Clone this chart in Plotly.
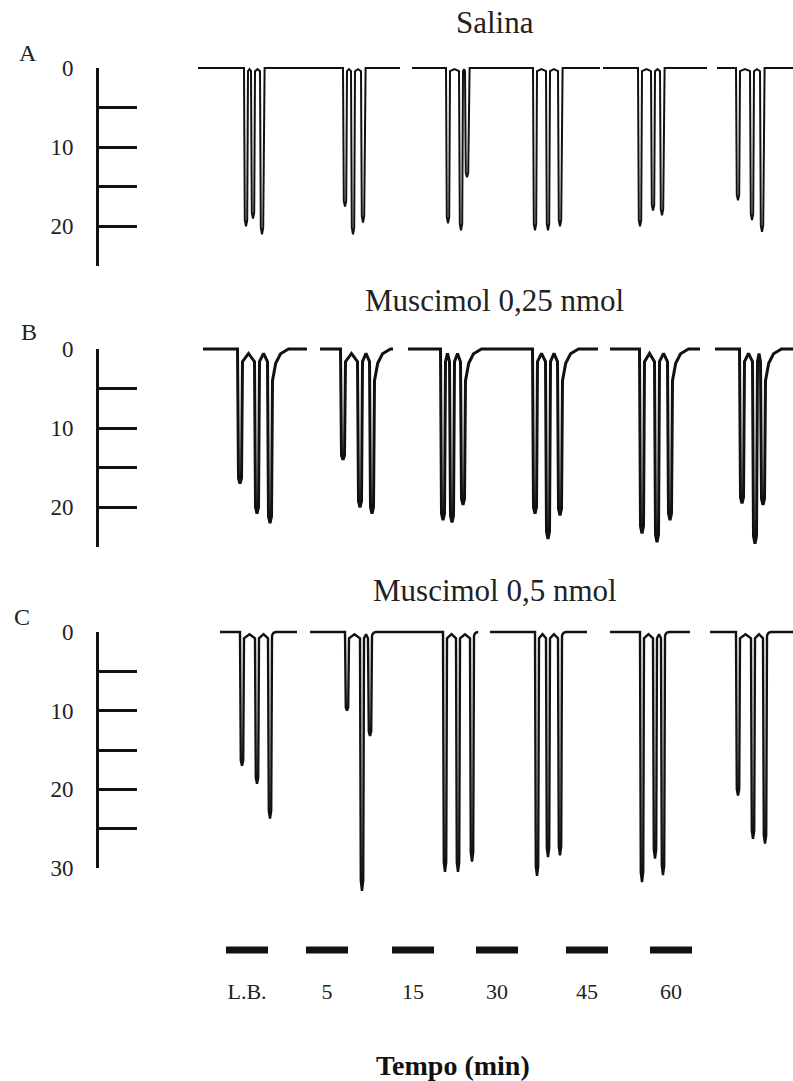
import plotly.graph_objects as go

W, H = 793, 1081
SERIF = "Liberation Serif, Times New Roman, serif"
INK = "#111111"

# Time points of the protocol (baseline + minutes after injection)
TIME_LABELS = ["L.B.", "5", "15", "30", "45", "60"]
TIME_MARKS = [247, 327, 413, 497, 587, 671]   # chart position of each time bar

# Recorded contraction peaks, per time point: (chart position, amplitude)
SALINA_PEAKS = [
    [(246, 20.0), (253, 19.0), (262, 21.0)],
    [(345, 17.5), (353, 21.0), (363, 19.5)],
    [(448, 19.6), (461, 20.5), (467, 13.8)],
    [(535, 20.5), (548, 20.5), (560, 20.0)],
    [(640, 20.0), (653, 18.0), (662, 18.6)],
    [(738, 16.7), (752, 19.2), (762, 20.7)],
]
SALINA_SEGMENTS = [(198, 400), (412, 600), (603, 707), (717, 793)]

MUSC025_PEAKS = [
    [(240, 17.0), (257, 20.8), (270, 22.0)],
    [(343, 14.0), (360, 20.0), (372, 20.8)],
    [(443, 21.6), (452, 21.9), (463, 19.7)],
    [(535, 20.8), (548, 24.0), (560, 21.0)],
    [(642, 23.3), (657, 24.4), (670, 21.6)],
    [(742, 19.5), (755, 24.6), (763, 19.7)],
]
MUSC025_SEGMENTS = [(203, 307), (320, 393), (408, 598), (610, 700), (715, 793)]

MUSC05_PEAKS = [
    [(242, 17.0), (257, 19.3), (270, 23.7)],
    [(347, 10.0), (362, 32.9), (370, 13.2)],
    [(445, 30.5), (458, 30.5), (472, 29.2)],
    [(537, 31.0), (548, 28.6), (560, 28.4)],
    [(642, 31.8), (655, 28.8), (663, 30.9)],
    [(738, 20.8), (753, 26.3), (765, 26.9)],
]
MUSC05_SEGMENTS = [(220, 297), (310, 390), (390, 477), (490, 587), (610, 690), (710, 793)]

# Scale bar tick values (labels every 10)
SCALE_AB = [0, 5, 10, 15, 20, 25]
SCALE_C = [0, 5, 10, 15, 20, 25, 30]

# Panel geometry (pixel rows) and pen style
PANELS = [
    dict(letter="A", title="Salina", peaks=SALINA_PEAKS, segments=SALINA_SEGMENTS,
         scale=SCALE_AB, scale_px=(68, 266), data_px=(40, 290),
         title_y=22, letter_xy=(28, 53),
         width=2.0, hw=2.0, valley=0.4, tail=(0.0, 3)),
    dict(letter="B", title="Muscimol 0,25 nmol", peaks=MUSC025_PEAKS, segments=MUSC025_SEGMENTS,
         scale=SCALE_AB, scale_px=(349, 547), data_px=(322, 565),
         title_y=300, letter_xy=(29, 332),
         width=3.0, hw=2.5, valley=1.6, tail=(4.0, 16)),
    dict(letter="C", title="Muscimol 0,5 nmol", peaks=MUSC05_PEAKS, segments=MUSC05_SEGMENTS,
         scale=SCALE_C, scale_px=(632, 868), data_px=(600, 910),
         title_y=590, letter_xy=(22, 617),
         width=2.4, hw=2.0, valley=0.8, tail=(0.5, 4)),
]

SCALE_X = 97  # horizontal position of the scale bars
TAIL_SHAPE = [(0.0, 1.0), (0.2, 0.45), (0.5, 0.15), (1.0, 0.0)]  # pen recovery curve


def frac(py):
    """Pixel row -> paper fraction (measured from the bottom)."""
    return 1 - py / H


def segment_path(start, end, groups, hw, valley, tail):
    """Pen path for one continuous stretch of recording."""
    tail_level, tail_len = tail
    xs, ys = [start], [0.0]
    for group in groups:
        if not (start <= group[0][0] <= end):
            continue
        xs.append(group[0][0] - hw)
        ys.append(0.0)
        for i, (px, amp) in enumerate(group):
            # narrow U-shaped pen stroke: down, rounded tip, back up
            xs += [px - 0.6 * hw, px, px + 0.6 * hw]
            ys += [amp * 0.96, amp, amp * 0.96]
            if i < len(group) - 1:
                nx = group[i + 1][0]
                mid = (px + nx) / 2
                xs += [px + hw, mid, nx - hw]
                ys += [valley, valley * 0.35, valley]
            else:
                for t, f in TAIL_SHAPE:
                    xs.append(px + hw + t * tail_len)
                    ys.append(tail_level * f)
    xs.append(end)
    ys.append(0.0)
    return xs, ys


fig = go.Figure()
layout = dict(
    width=W, height=H, margin=dict(l=0, r=0, t=0, b=0, autoexpand=False),
    paper_bgcolor="white", plot_bgcolor="rgba(0,0,0,0)",
    showlegend=False,
    xaxis=dict(domain=[0, 1], range=[0, W], showgrid=False, zeroline=False,
               showline=False, anchor="y4", automargin=False,
               tickmode="array", tickvals=TIME_MARKS, ticktext=TIME_LABELS,
               ticks="", ticklabelstandoff=14,
               tickfont=dict(family=SERIF, size=22, color="#222")),
)
annotations = []

for k, p in enumerate(PANELS):
    data_ax = "y" if k == 0 else f"y{k + 1}"
    scale_ax = f"y{k + 5}"
    top0, bot0 = p["scale_px"]
    smax = p["scale"][-1]
    unit = (bot0 - top0) / smax
    dtop, dbot = p["data_px"]
    rng_top = (dtop - top0) / unit
    rng_bot = (dbot - top0) / unit

    layout["yaxis" if k == 0 else f"yaxis{k + 1}"] = dict(
        domain=[frac(dbot), frac(dtop)], range=[rng_bot, rng_top],
        visible=False, anchor="x", automargin=False)

    layout[f"yaxis{k + 5}"] = dict(
        domain=[frac(bot0), frac(top0)], range=[smax, 0],
        anchor="free", position=SCALE_X / W, side="left", automargin=False,
        showgrid=False, zeroline=False,
        showline=True, linewidth=3, linecolor=INK,
        ticks="inside", ticklen=38, tickwidth=3, tickcolor=INK,
        tickmode="array", tickvals=p["scale"],
        ticktext=[str(v) if v % 10 == 0 else "" for v in p["scale"]],
        ticklabelstandoff=18,
        tickfont=dict(family=SERIF, size=23, color="#222"))

    # keeps the scale-bar subplot alive
    fig.add_trace(go.Scatter(x=[SCALE_X] * len(p["scale"]), y=p["scale"],
                             yaxis=scale_ax, mode="markers",
                             marker=dict(opacity=0), hoverinfo="skip"))

    for start, end in p["segments"]:
        xs, ys = segment_path(start, end, p["peaks"], p["hw"], p["valley"], p["tail"])
        fig.add_trace(go.Scatter(x=xs, y=ys, yaxis=data_ax, mode="lines",
                                 line=dict(color=INK, width=p["width"]),
                                 hoverinfo="skip"))

    annotations.append(dict(text=p["title"], x=495 / W, y=frac(p["title_y"]),
                            xref="paper", yref="paper", showarrow=False,
                            xanchor="center", yanchor="middle",
                            font=dict(family=SERIF, size=31, color="#222")))
    lx, ly = p["letter_xy"]
    annotations.append(dict(text=p["letter"], x=lx / W, y=frac(ly),
                            xref="paper", yref="paper", showarrow=False,
                            xanchor="center", yanchor="middle",
                            font=dict(family=SERIF, size=24, color="#222")))

# Row of time bars under the traces
layout["yaxis4"] = dict(domain=[frac(962), frac(938)], range=[-1, 1],
                        visible=False, anchor="x", automargin=False)
fig.add_trace(go.Scatter(x=TIME_MARKS, y=[0] * len(TIME_MARKS), yaxis="y4",
                         mode="markers", hoverinfo="skip",
                         marker=dict(symbol="line-ew", size=30,
                                     line=dict(width=7, color=INK))))

annotations.append(dict(text="<b>Tempo (min)</b>", x=453 / W, y=frac(1065),
                        xref="paper", yref="paper", showarrow=False,
                        xanchor="center", yanchor="middle",
                        font=dict(family=SERIF, size=28, color="#111")))

layout["annotations"] = annotations
fig.update_layout(**layout)
fig.write_html("out.html")
